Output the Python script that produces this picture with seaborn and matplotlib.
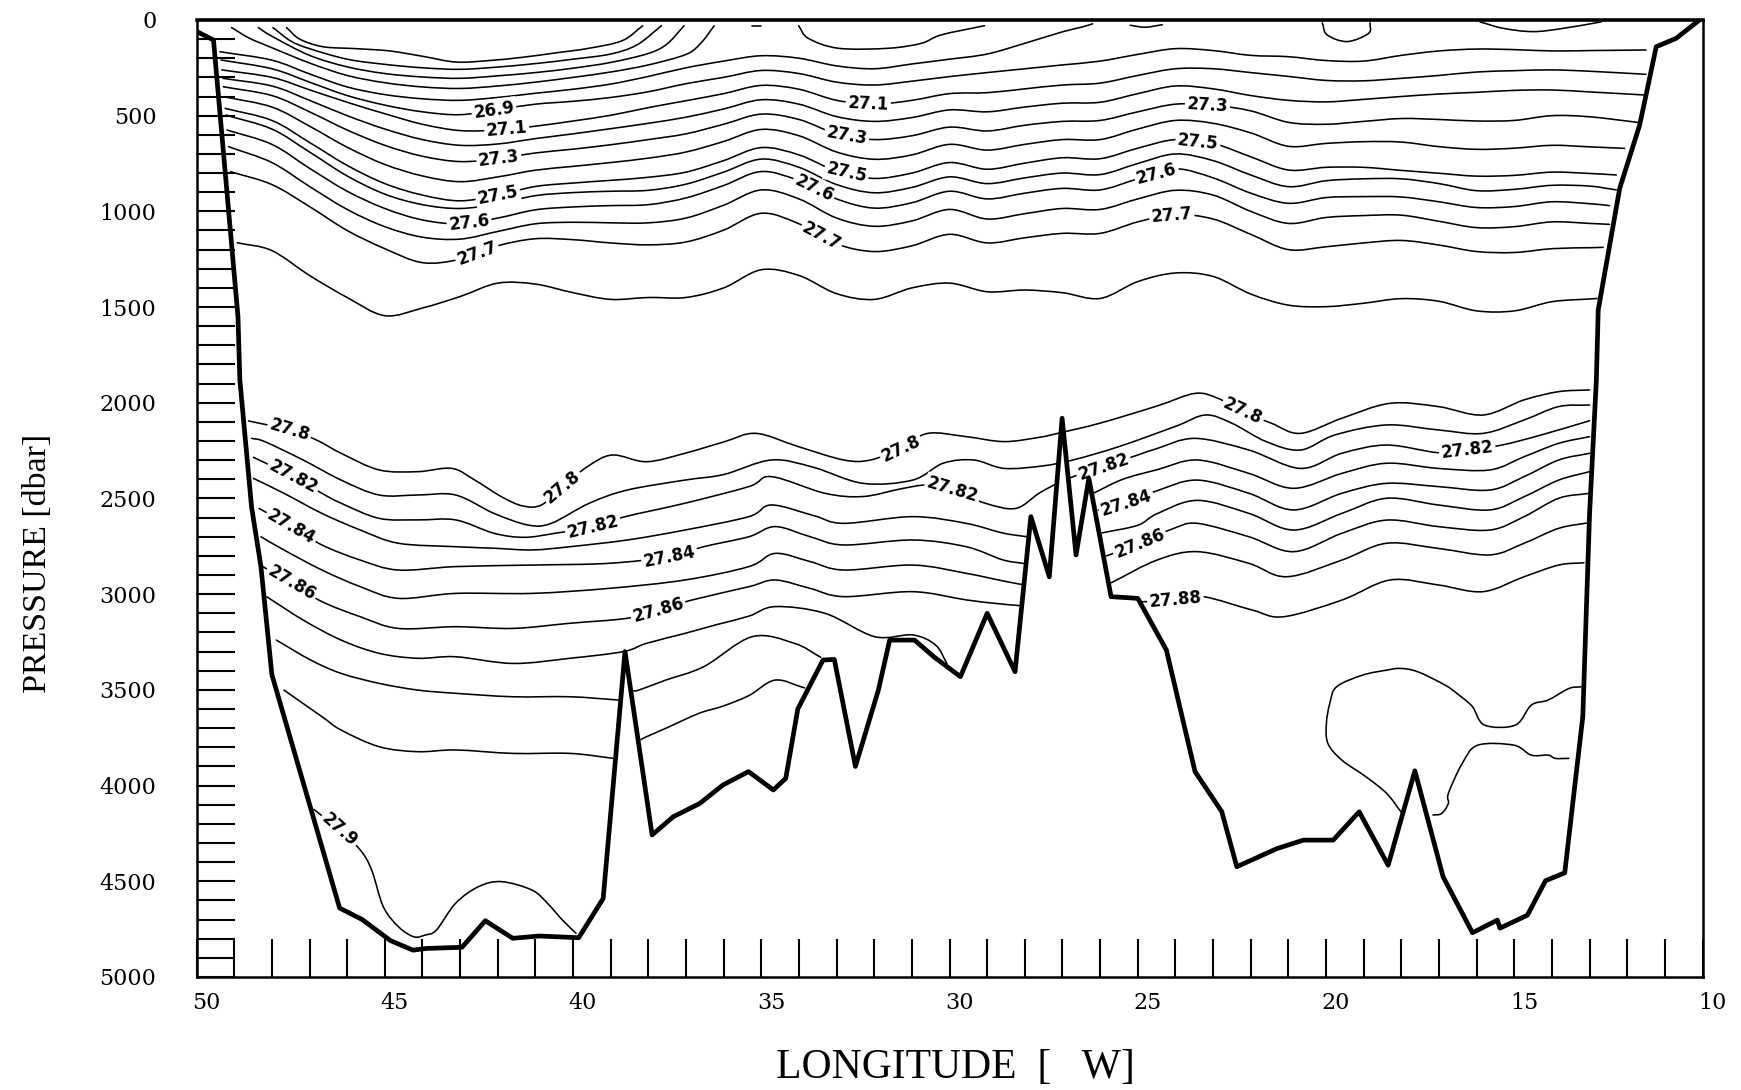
import numpy as np
import pandas as pd
import matplotlib
matplotlib.use("Agg")
import matplotlib.pyplot as plt
import matplotlib.transforms as mtransforms
from matplotlib.path import Path
from matplotlib.patches import PathPatch, Polygon
import seaborn as sns

# ------------------------------------------------------------------
# Bottom topography along the section (longitude in deg W, pressure in dbar)
# ------------------------------------------------------------------
BOTTOM_LON = [50.0, 49.55, 48.90, 48.85, 48.54, 48.29, 48.0, 46.2, 45.6, 44.85, 44.25,
              43.9, 42.95, 42.33, 41.6, 40.9, 39.85, 39.2, 38.62, 37.9, 37.34, 36.63,
              36.02, 35.34, 34.68, 34.35, 34.03, 33.36, 33.06, 32.5, 31.89, 31.59, 30.93,
              30.4, 29.71, 29.0, 28.26, 27.84, 27.35, 27.01, 26.64, 26.3, 25.71, 25.0,
              24.24, 23.48, 22.77, 22.37, 21.3, 20.6, 19.81, 19.12, 18.35, 17.64, 16.89,
              16.11, 15.45, 15.38, 14.65, 14.17, 13.66, 13.18, 13.0, 12.82, 12.77, 12.2,
              11.67, 11.5, 11.23, 10.7, 10.08]
BOTTOM_P = [60, 105, 1550, 1881, 2543, 2856, 3420, 4640, 4700, 4810, 4860,
            4851, 4845, 4706, 4798, 4786, 4795, 4590, 3300, 4258, 4163, 4093,
            3997, 3927, 4023, 3962, 3600, 3344, 3341, 3900, 3501, 3240, 3240,
            3330, 3431, 3100, 3405, 2595, 2909, 2081, 2795, 2395, 3013, 3022,
            3292, 3927, 4136, 4424, 4329, 4285, 4285, 4137, 4416, 3923, 4477,
            4769, 4703, 4745, 4677, 4497, 4456, 3640, 2578, 1881, 1515, 880,
            549, 392, 140, 96, 0]

# ------------------------------------------------------------------
# Isopycnals of the upper 1500 dbar, sampled at whole degrees 48W ... 13W
# (first / last pair = where each line meets the continental slopes)
# ------------------------------------------------------------------
UPPER_LON = list(range(48, 12, -1))

SIG_2690 = [255, 325, 395, 445, 480, 495, 468, 440, 425, 405, 375, 333, 300, 264, 280, 325, 340, 320,
            296, 275, 255, 235, 215, 180, 150, 160, 185, 192, 212, 215, 185, 162, 152, 155, 162, 160]
SIG_2710 = [300, 365, 430, 490, 545, 578, 575, 555, 528, 498, 458, 422, 385, 342, 362, 420, 440, 420,
            385, 380, 360, 340, 330, 290, 255, 255, 275, 295, 316, 318, 305, 290, 272, 265, 261, 268]
SIG_2720 = [345, 420, 500, 570, 625, 655, 648, 620, 595, 568, 540, 508, 465, 417, 440, 505, 530, 510,
            470, 480, 455, 435, 430, 385, 345, 360, 395, 420, 428, 415, 400, 387, 378, 368, 366, 376]
SIG_2730 = [395, 480, 575, 655, 712, 740, 725, 695, 675, 652, 625, 595, 545, 492, 520, 595, 625, 605,
            560, 580, 550, 530, 525, 480, 440, 445, 475, 535, 545, 530, 515, 520, 528, 525, 500, 506]
SIG_2740 = [455, 555, 665, 755, 815, 845, 820, 785, 765, 745, 722, 690, 635, 572, 605, 690, 728, 705,
            650, 680, 650, 625, 625, 570, 525, 540, 590, 660, 645, 636, 638, 662, 676, 670, 655, 663]
SIG_2750 = [525, 640, 760, 855, 915, 945, 915, 870, 852, 838, 822, 795, 735, 667, 705, 790, 828, 800,
            745, 780, 748, 720, 725, 670, 625, 645, 715, 784, 770, 770, 786, 801, 816, 812, 795, 802]
SIG_2755 = [570, 690, 815, 910, 965, 985, 960, 918, 902, 895, 890, 858, 795, 727, 770, 860, 903, 875,
            820, 855, 825, 800, 808, 750, 700, 735, 810, 871, 840, 830, 830, 855, 892, 885, 864, 868]
SIG_2760 = [650, 775, 895, 985, 1045, 1065, 1035, 992, 977, 970, 965, 930, 865, 792, 840, 935, 983, 955,
            895, 935, 905, 880, 888, 830, 778, 825, 905, 958, 928, 923, 925, 950, 980, 975, 950, 960]
SIG_2765 = [745, 870, 990, 1080, 1135, 1145, 1105, 1065, 1057, 1060, 1060, 1035, 968, 888, 935, 1035,
            1078, 1050, 990, 1040, 1012, 985, 990, 935, 890, 915, 1000, 1063, 1032, 1022, 1020, 1052,
            1085, 1080, 1055, 1063]
SIG_2770 = [860, 975, 1100, 1195, 1268, 1250, 1180, 1143, 1148, 1165, 1175, 1160, 1098, 1010, 1065,
            1170, 1210, 1180, 1120, 1165, 1138, 1115, 1115, 1055, 1017, 1040, 1120, 1200, 1185, 1165,
            1152, 1176, 1210, 1215, 1195, 1190]
SIG_2775 = [1205, 1335, 1450, 1545, 1505, 1445, 1375, 1380, 1425, 1460, 1450, 1450, 1400, 1305, 1335,
            1430, 1460, 1400, 1375, 1420, 1411, 1425, 1455, 1367, 1322, 1340, 1432, 1490, 1498, 1480,
            1456, 1470, 1520, 1520, 1472, 1458]

ENDS_2690 = [(49.35, 209), (11.50, 157)]
ENDS_2710 = [(49.33, 261), (11.50, 284)]
ENDS_2720 = [(49.30, 305), (11.54, 392)]
ENDS_2730 = [(49.29, 349), (11.72, 535)]
ENDS_2740 = [(49.27, 401), (12.07, 671)]
ENDS_2750 = [(49.24, 462), (12.29, 810)]
ENDS_2755 = [(49.22, 497), (12.29, 888)]
ENDS_2760 = [(49.19, 575), (12.47, 970)]
ENDS_2765 = [(49.15, 662), (12.47, 1068)]
ENDS_2770 = [(49.09, 793), (12.64, 1188)]
ENDS_2775 = [(48.92, 1164), (12.80, 1455)]

# near-surface lines that outcrop
SIG_2670 = [(49.38, 166), (48, 210), (47, 282), (46, 350), (45, 390), (44, 412), (43, 420), (42, 405),
            (41, 383), (40, 362), (39, 335), (38, 295), (37, 250), (36, 215), (35, 187), (34, 200),
            (33, 240), (32, 255), (31, 230), (30, 205), (29, 178), (28, 122), (27, 62), (26.5, 38),
            (26.2, 20)]
SIG_2650 = [(49.07, 40), (48.6, 95), (48, 145), (47, 225), (46, 290), (45, 328), (44, 350), (43, 358),
            (42, 345), (41, 325), (40, 300), (39, 272), (38, 235), (37, 180), (36.6, 120), (36.25, 30)]
SIG_2630 = [(48.36, 40), (48, 85), (47, 185), (46, 245), (45, 280), (44, 298), (43, 305), (42, 292),
            (41, 275), (40, 252), (39, 222), (38, 175), (37.5, 125), (37.05, 30)]
SIG_2610 = [(47.97, 40), (47.5, 110), (47, 150), (46, 205), (45, 232), (44, 250), (43, 258), (42, 246),
            (41, 228), (40, 205), (39, 178), (38.3, 130), (37.65, 30)]
SIG_2590 = [(47.61, 40), (47.26, 100), (46.64, 140), (45.76, 150), (44.87, 162), (43.99, 190),
            (43.11, 220), (42.22, 212), (41.34, 195), (40.46, 172), (39.58, 148), (38.69, 108),
            (38.15, 30)]
LENS_A = [(34.01, 30), (33.75, 96), (32.95, 148), (31.63, 148), (30.75, 122), (30.22, 78), (29.07, 30)]
LENS_B = [(35.25, 30), (35.0, 30)]
LENS_C = [(25.2, 28), (24.8, 38), (24.35, 25)]
LENS_D = [(20.1, 15), (19.97, 78), (19.44, 113), (18.87, 70), (18.83, 15)]
LENS_E = [(15.91, 10), (15.29, 44), (14.5, 61), (13.7, 44), (12.69, 10)]

# ------------------------------------------------------------------
# Deep isopycnals (27.80 ... 27.90)
# ------------------------------------------------------------------
SIG_2780 = [(48.62, 2095), (47.53, 2142), (46.82, 2194), (46.16, 2264), (45.15, 2351), (44.13, 2360),
            (43.22, 2343), (42.61, 2404), (41.9, 2491), (41.34, 2539), (40.84, 2534), (40.28, 2438),
            (39.62, 2334), (38.96, 2273), (38.05, 2308), (37.03, 2264), (36.0, 2205), (35.14, 2160),
            (34.02, 2229), (32.81, 2299), (32.1, 2299), (31.29, 2238), (30.58, 2160), (29.56, 2177),
            (28.55, 2203), (27.6, 2180), (27.13, 2160), (26.01, 2107), (24.49, 2017), (23.48, 1951),
            (22.87, 1977), (22.21, 2046), (21.45, 2107), (20.68, 2160), (19.58, 2081), (18.3, 2003),
            (17.02, 2020), (15.83, 2064), (14.74, 1985), (13.82, 1942), (13.0, 1933)]
SIG_2781 = [(48.54, 2186), (48.19, 2203), (47.17, 2299), (46.16, 2404), (45.15, 2482), (44.13, 2482),
            (43.12, 2482), (42.1, 2578), (41.19, 2639), (40.58, 2630), (39.57, 2525), (38.56, 2456),
            (37.03, 2404), (36.0, 2375), (34.73, 2299), (33.62, 2337), (32.3, 2421), (30.98, 2404),
            (30.17, 2316), (29.36, 2299), (28.55, 2343), (27.53, 2330), (26.72, 2299), (25.5, 2229),
            (23.98, 2122), (23.2, 2064), (22.5, 2107), (21.59, 2203), (20.68, 2247), (19.76, 2168),
            (18.39, 2116), (17.02, 2142), (15.83, 2160), (14.74, 2090), (13.82, 2020), (13.0, 2012)]
SIG_2782 = [(48.49, 2285), (47.43, 2386), (46.67, 2473), (46.16, 2525), (45.15, 2604), (44.13, 2612),
            (43.12, 2612), (42.1, 2682), (41.29, 2703), (40.48, 2682), (39.47, 2647), (38.61, 2595),
            (37.03, 2525), (35.33, 2438), (34.73, 2386), (33.31, 2473), (32.3, 2490), (31.3, 2450),
            (30.6, 2430), (29.92, 2456), (29.05, 2525), (28.24, 2552), (27.6, 2470), (26.9, 2400),
            (25.91, 2334), (25.0, 2273), (24.5, 2240), (23.48, 2186), (22.05, 2247), (20.68, 2343),
            (19.58, 2264), (18.39, 2221), (17.02, 2261), (16.25, 2247), (15.33, 2221), (14.28, 2168),
            (13.0, 2094)]
SIG_2783_W = [(48.49, 2395), (47.68, 2473), (46.67, 2578), (45.65, 2665), (44.64, 2734), (43.12, 2752),
              (42.1, 2760), (41.09, 2769), (40.08, 2752), (38.56, 2717), (37.03, 2665), (35.33, 2595),
              (34.73, 2534), (33.6, 2590), (32.81, 2630), (30.98, 2595), (29.56, 2630), (28.6, 2680),
              (27.95, 2700)]
SIG_2783_E = [(26.15, 2470), (25.4, 2400), (24.49, 2350), (23.42, 2299), (22.05, 2369), (20.86, 2447),
              (19.58, 2369), (18.39, 2316), (17.02, 2343), (15.65, 2351), (14.74, 2282), (13.82, 2212),
              (13.0, 2177)]
SIG_2784_W = [(48.34, 2552), (47.48, 2647), (46.67, 2743), (45.65, 2822), (44.64, 2874), (43.12, 2856),
              (41.09, 2848), (39.06, 2839), (37.44, 2804), (36.53, 2752), (35.33, 2700), (34.63, 2647),
              (33.7, 2700), (32.81, 2743), (30.98, 2717), (29.56, 2752), (28.6, 2820), (28.02, 2840)]
SIG_2784_E = [(26.05, 2560), (25.3, 2525), (24.49, 2460), (23.42, 2404), (22.05, 2473), (20.86, 2560),
              (19.58, 2473), (18.39, 2421), (17.02, 2438), (15.65, 2456), (14.74, 2386), (13.82, 2299),
              (13.0, 2264)]
SIG_2785_W = [(48.29, 2700), (47.68, 2769), (46.67, 2874), (45.65, 2961), (44.64, 3022), (43.12, 2996),
              (41.09, 2996), (39.06, 2970), (37.03, 2926), (35.33, 2856), (34.63, 2787), (33.7, 2830),
              (32.81, 2874), (30.98, 2848), (29.56, 2891), (28.6, 2930), (28.07, 2950)]
SIG_2785_E = [(25.95, 2680), (25.0, 2640), (24.49, 2580), (23.42, 2510), (22.05, 2578), (20.86, 2665),
              (19.58, 2578), (18.39, 2499), (17.02, 2534), (15.65, 2560), (14.74, 2491), (13.82, 2404),
              (13.0, 2360)]
SIG_2786_W = [(48.24, 2856), (47.48, 2943), (46.67, 3039), (45.65, 3118), (44.64, 3179), (43.12, 3170),
              (41.6, 3179), (40.08, 3152), (38.56, 3126), (37.74, 3083), (36.83, 3030), (35.33, 2961),
              (34.63, 2926), (33.7, 2970), (32.81, 3013), (30.98, 2987), (29.56, 3030), (28.7, 3050),
              (28.13, 3060)]
SIG_2786_E = [(25.83, 2800), (24.95, 2734), (24.09, 2660), (23.42, 2630), (22.05, 2700), (20.86, 2778),
              (19.58, 2682), (18.39, 2613), (17.02, 2647), (15.65, 2665), (14.74, 2595), (13.82, 2499),
              (13.0, 2473)]
SIG_2787_W = [(48.14, 3013), (47.17, 3135), (46.16, 3240), (45.15, 3309), (44.13, 3335), (43.12, 3327),
              (41.6, 3362), (40.08, 3335), (38.66, 3300), (38.05, 3257), (37.03, 3205), (36.2, 3160),
              (35.33, 3115), (34.63, 3065), (33.31, 3100), (31.99, 3222), (30.98, 3213), (30.37, 3266),
              (30.07, 3362)]
SIG_2787_E = [(25.7, 2940), (24.49, 2822), (23.42, 2778), (22.05, 2839), (21.04, 2909), (19.58, 2822),
              (18.39, 2734), (17.02, 2761), (15.65, 2795), (14.74, 2734), (13.82, 2656), (13.0, 2626)]
SIG_2788_W = [(47.88, 3240), (46.97, 3344), (46.16, 3414), (45.15, 3466), (44.13, 3501), (43.12, 3518),
              (41.6, 3536), (40.08, 3536), (38.8, 3553)]
SIG_2788_M = [(38.42, 3505), (38.25, 3501), (37.54, 3449), (36.53, 3379), (35.24, 3222), (34.12, 3257),
              (33.42, 3330)]
SIG_2788_E = [(24.9, 3040), (24.0, 3030), (23.26, 3013), (21.96, 3083), (21.13, 3118), (19.58, 3031),
              (18.3, 2926), (17.02, 2952), (15.83, 2987), (14.74, 2909), (13.82, 2848), (13.15, 2836)]
SIG_2789_W = [(47.68, 3501), (46.67, 3640), (46.16, 3710), (45.15, 3797), (44.13, 3823), (43.12, 3814),
              (41.6, 3832), (40.08, 3832), (38.92, 3858)]
SIG_2789_M = [(38.2, 3760), (38.05, 3745), (37.54, 3701), (36.66, 3623), (36.02, 3585), (35.33, 3530),
              (34.63, 3449), (33.85, 3490)]
SIG_2789_E = [(18.0, 4140), (18.39, 4041), (18.94, 3954), (19.58, 3867), (19.95, 3780), (19.99, 3675),
              (19.9, 3571), (19.72, 3484), (19.03, 3423), (18.39, 3397), (18.03, 3388), (17.57, 3405),
              (16.84, 3475), (16.47, 3527), (16.11, 3588), (15.79, 3684), (14.97, 3684), (14.55, 3580),
              (14.1, 3553), (13.55, 3493), (13.23, 3484)]
SIG_2790_W = [(46.88, 4125), (46.21, 4232), (45.65, 4337), (45.35, 4441), (45.04, 4633), (44.64, 4737),
              (44.23, 4790), (43.93, 4781), (43.63, 4755), (43.12, 4615), (42.51, 4528), (41.9, 4502),
              (41.09, 4546), (40.68, 4615), (40.28, 4703), (39.92, 4772)]
SIG_2790_E = [(17.16, 4154), (16.93, 4146), (16.75, 4093), (16.75, 4041), (16.38, 3884), (15.97, 3789),
              (15.01, 3789), (14.55, 3841), (14.1, 3841), (13.91, 3858), (13.55, 3858)]

# longitudes at which the level of a line is written on it
LABELS_2690 = [42.1]
LABELS_2710 = [41.76, 32.16]
LABELS_2730 = [41.97, 32.73, 23.15]
LABELS_2750 = [42.0, 32.74, 23.4]
LABELS_2760 = [42.76, 33.6, 24.5]
LABELS_2770 = [42.55, 33.4, 24.1]
LABELS_2780 = [47.53, 40.28, 31.29, 22.21]
LABELS_2782 = [47.43, 39.47, 29.92, 25.91, 16.25]
LABELS_2784_W = [47.48, 37.44]
LABELS_2784_E = [25.3]
LABELS_2786_W = [47.48, 37.74]
LABELS_2786_E = [24.95]
LABELS_2788_E = [24.0]
LABELS_2790_W = [46.21]


def upper_line(ends, values):
    (lon0, p0), (lon1, p1) = ends
    return [lon0] + UPPER_LON + [lon1], [p0] + list(values) + [p1]


def pairs(points):
    return [a for a, _ in points], [b for _, b in points]


# (level, longitudes, pressures, label longitudes)
CONTOURS = [
    (26.9, *upper_line(ENDS_2690, SIG_2690), LABELS_2690),
    (27.1, *upper_line(ENDS_2710, SIG_2710), LABELS_2710),
    (27.2, *upper_line(ENDS_2720, SIG_2720), []),
    (27.3, *upper_line(ENDS_2730, SIG_2730), LABELS_2730),
    (27.4, *upper_line(ENDS_2740, SIG_2740), []),
    (27.5, *upper_line(ENDS_2750, SIG_2750), LABELS_2750),
    (27.55, *upper_line(ENDS_2755, SIG_2755), []),
    (27.6, *upper_line(ENDS_2760, SIG_2760), LABELS_2760),
    (27.65, *upper_line(ENDS_2765, SIG_2765), []),
    (27.7, *upper_line(ENDS_2770, SIG_2770), LABELS_2770),
    (27.75, *upper_line(ENDS_2775, SIG_2775), []),
    (26.7, *pairs(SIG_2670), []),
    (26.5, *pairs(SIG_2650), []),
    (26.3, *pairs(SIG_2630), []),
    (26.1, *pairs(SIG_2610), []),
    (25.9, *pairs(SIG_2590), []),
    (None, *pairs(LENS_A), []),
    (None, *pairs(LENS_B), []),
    (None, *pairs(LENS_C), []),
    (None, *pairs(LENS_D), []),
    (None, *pairs(LENS_E), []),
    (27.8, *pairs(SIG_2780), LABELS_2780),
    (27.81, *pairs(SIG_2781), []),
    (27.82, *pairs(SIG_2782), LABELS_2782),
    (27.83, *pairs(SIG_2783_W), []),
    (27.83, *pairs(SIG_2783_E), []),
    (27.84, *pairs(SIG_2784_W), LABELS_2784_W),
    (27.84, *pairs(SIG_2784_E), LABELS_2784_E),
    (27.85, *pairs(SIG_2785_W), []),
    (27.85, *pairs(SIG_2785_E), []),
    (27.86, *pairs(SIG_2786_W), LABELS_2786_W),
    (27.86, *pairs(SIG_2786_E), LABELS_2786_E),
    (27.87, *pairs(SIG_2787_W), []),
    (27.87, *pairs(SIG_2787_E), []),
    (27.88, *pairs(SIG_2788_W), []),
    (27.88, *pairs(SIG_2788_M), []),
    (27.88, *pairs(SIG_2788_E), LABELS_2788_E),
    (27.89, *pairs(SIG_2789_W), []),
    (27.89, *pairs(SIG_2789_M), []),
    (27.89, *pairs(SIG_2789_E), []),
    (27.9, *pairs(SIG_2790_W), LABELS_2790_W),
    (27.9, *pairs(SIG_2790_E), []),
]

# ------------------------------------------------------------------
sns.set_theme(style="white")
plt.rcParams["font.family"] = ["DejaVu Serif", "DejaVu Sans"]

DPI = 100
fig = plt.figure(figsize=(17.41, 10.90), dpi=DPI)
fig.patch.set_facecolor("white")
ax = fig.add_axes([0.1129, 0.1037, 0.8650, 0.8780])
ax.set_facecolor("white")
ax.set_xlim(50, 10)
ax.set_ylim(5000, 0)


def smooth_path(lons, ps):
    """Cubic (Catmull-Rom style) Bezier path through the sampled points."""
    pts = np.column_stack([lons, ps]).astype(float)
    if len(pts) < 3:
        return Path(pts)
    ext = np.vstack([2 * pts[0] - pts[1], pts, 2 * pts[-1] - pts[-2]])
    verts, codes = [pts[0]], [Path.MOVETO]
    for i in range(len(pts) - 1):
        p0, p1, p2, p3 = ext[i:i + 4]
        verts += [p1 + (p2 - p0) / 6.0, p2 - (p3 - p1) / 6.0, p2]
        codes += [Path.CURVE4] * 3
    return Path(np.array(verts), codes)


def label_line(text, lons, ps, lon0):
    order = np.argsort(lons)
    xs = np.asarray(lons, float)[order]
    ys = np.asarray(ps, float)[order]
    p0 = np.interp(lon0, xs, ys)
    d = 0.35
    a = ax.transData.transform((lon0 + d, np.interp(lon0 + d, xs, ys)))
    b = ax.transData.transform((lon0 - d, np.interp(lon0 - d, xs, ys)))
    ang = np.degrees(np.arctan2(b[1] - a[1], b[0] - a[0]))
    ax.text(lon0, p0, text, rotation=ang, rotation_mode="anchor", ha="center", va="center",
            fontsize=12, fontweight="bold", family="DejaVu Sans", color="black", zorder=2.6,
            bbox=dict(boxstyle="square,pad=0.12", fc="white", ec="none"))


for level, lons, ps, lab_lons in CONTOURS:
    ax.add_patch(PathPatch(smooth_path(lons, ps), fill=False, ec="black", lw=1.15,
                           capstyle="round", joinstyle="round", zorder=2))
    for lon0 in lab_lons:
        label_line(f"{level:g}", lons, ps, lon0)

# ground below the bottom line
land = ([(50.6, 5200), (50.6, BOTTOM_P[0])] + list(zip(BOTTOM_LON, BOTTOM_P))
        + [(9.4, 0), (9.4, 5200)])
ax.add_patch(Polygon(land, closed=True, fc="white", ec="none", zorder=3))

bottom = pd.DataFrame({"lon": BOTTOM_LON, "p": BOTTOM_P})
sns.lineplot(data=bottom, x="lon", y="p", sort=False, estimator=None, color="black",
             linewidth=3.4, ax=ax, zorder=4, solid_joinstyle="round")

ax.set_xlim(50, 10)
ax.set_ylim(5000, 0)

# ladder-style inner ticks: every degree and every 100 dbar
x_ticks = list(range(10, 51))
y_ticks = list(range(0, 5001, 100))
ax.set_xticks(x_ticks)
ax.set_xticklabels([str(v) if v % 5 == 0 else "" for v in x_ticks])
ax.set_yticks(y_ticks)
ax.set_yticklabels([str(v) if v % 500 == 0 else "" for v in y_ticks])
ax.tick_params(axis="x", which="major", direction="in", length=27.6, width=1.5, color="black",
               pad=11, labelsize=16, labelcolor="black", bottom=True, top=False)
ax.tick_params(axis="y", which="major", direction="in", length=27.1, width=1.5, color="black",
               pad=29, labelsize=16, labelcolor="black", left=True, right=False)
ax.xaxis.set_zorder(5)
ax.yaxis.set_zorder(5)

shift = mtransforms.ScaledTranslation(10 / DPI, 0, fig.dpi_scale_trans)
for lab in ax.get_xticklabels():
    lab.set_transform(lab.get_transform() + shift)

for sp in ax.spines.values():
    sp.set_visible(True)
    sp.set_color("black")
    sp.set_linewidth(1.8)
    sp.set_zorder(6)
ax.spines["top"].set_linewidth(2.6)

ax.set_xlabel("LONGITUDE  [   W]", fontsize=30, family="Liberation Serif", color="black")
ax.xaxis.set_label_coords(0.5036, -0.095)
ax.xaxis.label.set_va("center")
ax.set_ylabel("PRESSURE [dbar]", fontsize=24.5, family="Liberation Serif", color="black")
ax.yaxis.set_label_coords(-0.1056, 0.4326)
ax.yaxis.label.set_va("center")

fig.savefig("out.png", dpi=DPI, facecolor="white")
